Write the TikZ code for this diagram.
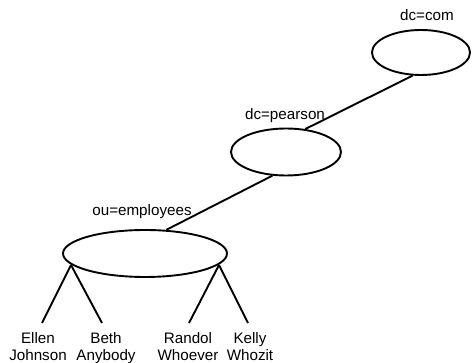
\documentclass[tikz,border=0pt]{standalone}
\usepackage{fontspec}
\setmainfont{Liberation Sans}
\usetikzlibrary{shapes.geometric}
\begin{document}
\begin{tikzpicture}[x=1pt,y=-1pt,
  oval/.style={draw,line width=1.9pt,ellipse,inner sep=0pt},
  lbl/.style={font=\fontsize{15.2}{17.5}\selectfont,inner sep=0pt,align=center},
  edge/.style={line width=1.9pt}]
\useasboundingbox (0,0) rectangle (472,363);
\node[oval,minimum width=98,minimum height=45] (com) at (421,52.5) {};
\node[oval,minimum width=110,minimum height=47] (pearson) at (286,152) {};
\node[oval,minimum width=164,minimum height=47] (emp) at (145,253.5) {};
\node[lbl] (lcom) at (427,15) {dc=com};
\node[lbl] (lpearson) at (285,116) {dc=pearson};
\node[lbl] (lemp) at (142,212) {ou=employees};
\node[lbl,anchor=north] (ellen) at (38,332) {Ellen\\Johnson};
\node[lbl,anchor=north] (beth) at (106,332) {Beth\\Anybody};
\node[lbl,anchor=north] (randol) at (188,332) {Randol\\Whoever};
\node[lbl,anchor=north] (kelly) at (250,332) {Kelly\\Whozit};
\coordinate (pL) at (71,265);
\coordinate (pR) at (219,265);
\draw[edge] (com.250) -- (pearson.50);
\draw[edge] (pearson.240) -- (emp.48);
\draw[edge] (pL) -- ([yshift=9pt]ellen.north -| 42,0);
\draw[edge] (pL) -- ([yshift=9pt]beth.north -| 102,0);
\draw[edge] (pR) -- ([yshift=9pt]randol.north -| 189,0);
\draw[edge] (pR) -- ([yshift=9pt]kelly.north -| 248,0);
\end{tikzpicture}
\end{document}
